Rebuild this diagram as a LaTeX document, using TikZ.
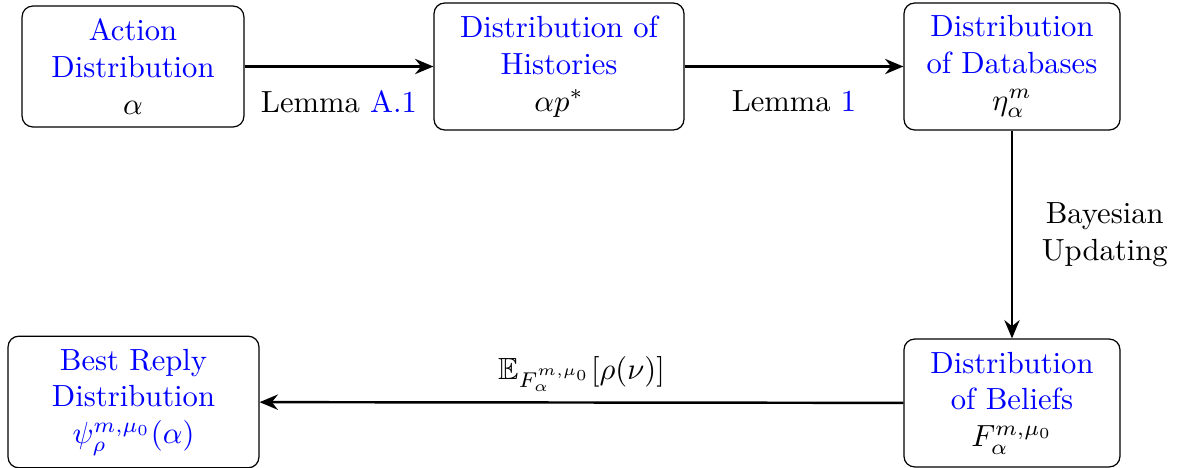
\documentclass[tikz,border=0pt]{standalone}
\usepackage{amsmath,amssymb}
\usetikzlibrary{arrows.meta}
\begin{document}
\begin{tikzpicture}[x=0.3268pt,y=-0.3268pt,
  box/.style={draw, thin, rounded corners=3.5pt, align=center, inner sep=3pt},
  conn/.style={thick, -{Stealth[length=6pt,width=5pt,inset=2pt]}},
  lab/.style={font=\normalsize, inner sep=3.33pt}]
\useasboundingbox (0,0) rectangle (1183,468);
\node[box, minimum width=72.5pt, minimum height=39.5pt] (A) at (133,66.5)
  {\textcolor{blue}{Action}\\\textcolor{blue}{Distribution}\\$\alpha$};
\node[box, minimum width=81.7pt, minimum height=41.5pt] (H) at (559,66.5)
  {\textcolor{blue}{Distribution of}\\\textcolor{blue}{Histories}\\$\alpha p^{*}$};
\node[box, minimum width=70.6pt, minimum height=41.5pt] (D) at (1012,66.5)
  {\textcolor{blue}{Distribution}\\\textcolor{blue}{of Databases}\\$\eta^{m}_{\alpha}$};
\node[box, minimum width=70.6pt, minimum height=41.8pt] (B) at (1012,403)
  {\textcolor{blue}{Distribution}\\\textcolor{blue}{of Beliefs}\\$F^{m,\mu_0}_{\alpha}$};
\node[box, minimum width=82pt, minimum height=43pt] (R) at (133.5,402)
  {\textcolor{blue}{Best Reply}\\\textcolor{blue}{Distribution}\\\textcolor{blue}{$\psi^{m,\mu_0}_{\rho}(\alpha)$}};
\draw[conn] (A) -- node[lab, below, yshift=-4pt] (l1) {Lemma \textcolor{blue}{A.1}} (H);
\draw[conn] (H) -- node[lab, below, yshift=-4pt] (l2) {Lemma \textcolor{blue}{1}} (D);
\draw[conn] (D) -- node[lab, right, align=center, xshift=6pt] (l3) {Bayesian\\Updating} (B);
\draw[conn] (B) -- node[lab, above] (l4) {$\mathbb{E}_{F^{m,\mu_0}_{\alpha}}[\rho(\nu)]$} (R);
\end{tikzpicture}
\end{document}
